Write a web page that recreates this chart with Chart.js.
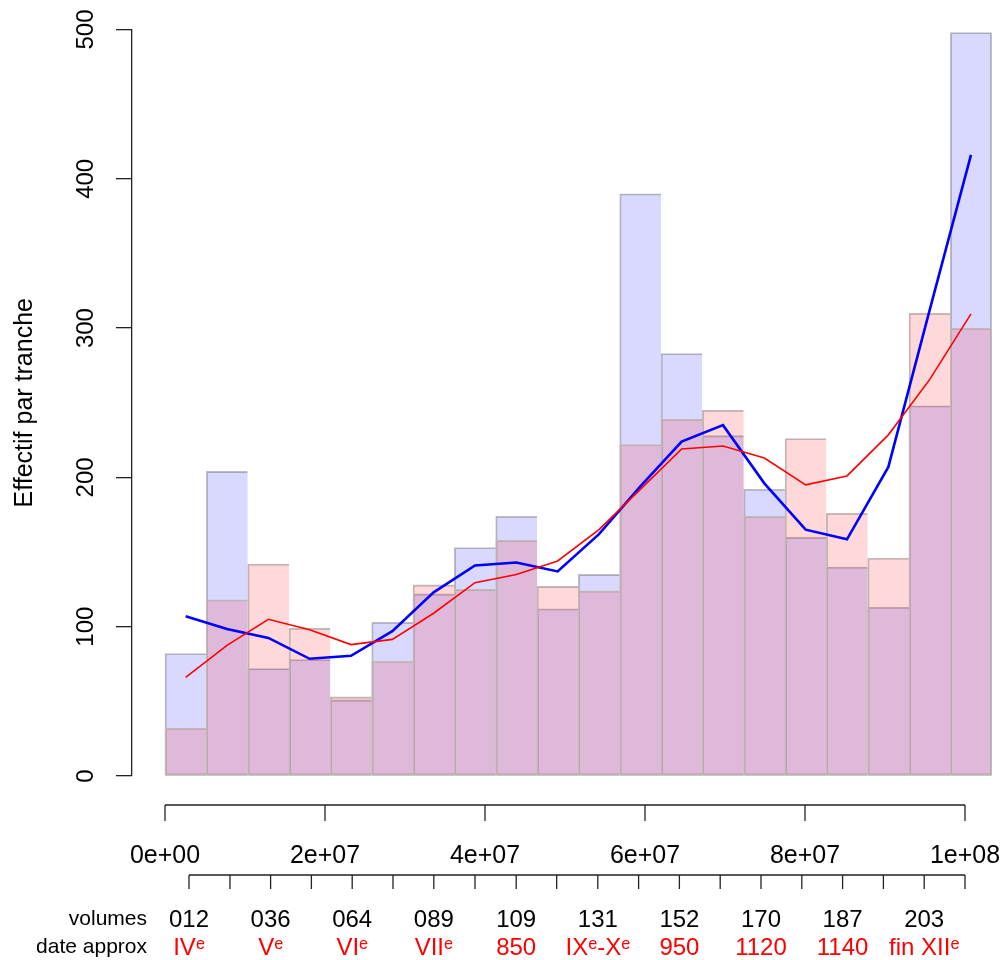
<!DOCTYPE html>
<html lang="fr">
<head>
<meta charset="utf-8">
<title>Effectif par tranche</title>
<script src="https://cdn.jsdelivr.net/npm/chart.js@4/dist/chart.umd.min.js"></script>
<style>
  html, body { margin: 0; padding: 0; background: #fff; }
  canvas { display: block; }
</style>
</head>
<body>
<canvas id="chart" width="1001" height="960"></canvas>
<script>
// Two overlaid histograms (slices of the corpus) + their smoothed curves.

// slice midpoints (character offset)
const sliceMid = [2.58e6, 7.75e6, 12.92e6, 18.08e6, 23.25e6, 28.42e6, 33.58e6, 38.75e6, 43.92e6, 49.08e6,
                  54.25e6, 59.42e6, 64.58e6, 69.75e6, 74.92e6, 80.08e6, 85.25e6, 90.42e6, 95.58e6, 100.75e6];

const countBlue = [82, 204, 72, 78, 51, 103, 122, 153, 174, 112, 135, 390, 283, 228, 192, 160, 140, 113, 248, 498];
const countRed  = [32, 118, 142, 99, 53, 77, 128, 125, 158, 127, 124, 222, 239, 245, 174, 226, 176, 146, 310, 300];

const smoothBlue = [107, 98.5, 92.5, 78.5, 80.5, 97, 123, 141, 143, 137, 162, 194, 224, 235, 196, 165, 158.5, 207, 312, 416];
const smoothRed  = [66, 87.5, 105, 98, 88, 91.5, 109, 129.5, 135, 144, 165, 192, 219, 221, 213, 195, 201, 228.5, 265.5, 309.5];

const xTicks = [0, 2e7, 4e7, 6e7, 8e7, 1e8];
const xTickLabels = ["0e+00", "2e+07", "4e+07", "6e+07", "8e+07", "1e+08"];

// secondary axis: volume boundaries
const volumeTicks = [3.0e6, 8.12e6, 13.2e6, 18.3e6, 23.4e6, 28.5e6, 33.6e6, 38.75e6, 43.9e6, 48.96e6,
                     54.1e6, 59.2e6, 64.3e6, 69.4e6, 74.5e6, 79.6e6, 84.7e6, 89.8e6, 94.9e6, 100e6];
const volumeLabels = ["012", "036", "064", "089", "109", "131", "152", "170", "187", "203"];
const dateLabels = ["IVᵉ", "Vᵉ", "VIᵉ", "VIIᵉ", "850", "IXᵉ-Xᵉ", "950", "1120", "1140", "fin XIIᵉ"];

const FONT = "'Liberation Sans', Arial, Helvetica, sans-serif";
const AXIS = "#222";
const BAR_EDGE = "#bdbdbd";

const pts = (ys) => ys.map((y, i) => ({ x: sliceMid[i], y }));
const lastIdx = sliceMid.length - 1;
const edge = (c) => ({ top: 1.2, bottom: 1.2, left: 1.2, right: c.dataIndex === lastIdx ? 1.2 : 0 });

// R-style detached bottom axes, drawn from the x scale
const bottomAxes = {
  id: "bottomAxes",
  afterDraw(chart) {
    const ctx = chart.ctx;
    const px = (v) => chart.scales.x.getPixelForValue(v);
    ctx.save();
    ctx.strokeStyle = AXIS;
    ctx.lineWidth = 1.3;

    ctx.beginPath();
    ctx.moveTo(px(xTicks[0]), 805);
    ctx.lineTo(px(xTicks[xTicks.length - 1]), 805);
    xTicks.forEach((v) => { ctx.moveTo(px(v), 805); ctx.lineTo(px(v), 821); });
    ctx.moveTo(px(volumeTicks[0]), 875);
    ctx.lineTo(px(volumeTicks[volumeTicks.length - 1]), 875);
    volumeTicks.forEach((v) => { ctx.moveTo(px(v), 875); ctx.lineTo(px(v), 889); });
    ctx.stroke();

    ctx.textAlign = "center";
    ctx.textBaseline = "alphabetic";
    ctx.fillStyle = "#000";
    ctx.font = "25px " + FONT;
    xTicks.forEach((v, i) => ctx.fillText(xTickLabels[i], px(v), 863));

    ctx.font = "24px " + FONT;
    volumeLabels.forEach((t, i) => ctx.fillText(t, px(volumeTicks[i * 2]), 927));
    ctx.fillStyle = "#ff0000";
    dateLabels.forEach((t, i) => ctx.fillText(t, px(volumeTicks[i * 2]), 955));

    ctx.textAlign = "right";
    ctx.fillStyle = "#000";
    ctx.font = "21px " + FONT;
    ctx.fillText("volumes", 147, 925);
    ctx.fillText("date approx", 147, 953);
    ctx.restore();
  }
};

Chart.defaults.font.family = FONT;
Chart.defaults.color = "#000";

new Chart(document.getElementById("chart"), {
  type: "bar",
  data: {
    datasets: [
      { type: "line", data: pts(smoothRed), borderColor: "#ff0000", borderWidth: 1.6, pointRadius: 0, tension: 0, order: 0 },
      { type: "line", data: pts(smoothBlue), borderColor: "#0000ff", borderWidth: 2.6, pointRadius: 0, tension: 0, order: 1 },
      { type: "bar", data: pts(countRed), backgroundColor: "rgba(255,0,0,0.15)", borderColor: BAR_EDGE,
        borderWidth: edge, borderSkipped: false, grouped: false, barPercentage: 1, categoryPercentage: 1, order: 2 },
      { type: "bar", data: pts(countBlue), backgroundColor: "rgba(0,0,255,0.15)", borderColor: BAR_EDGE,
        borderWidth: edge, borderSkipped: false, grouped: false, barPercentage: 1, categoryPercentage: 1, order: 3 }
    ]
  },
  options: {
    responsive: false,
    animation: false,
    devicePixelRatio: 1,
    layout: { padding: { top: 29.5, bottom: 184, left: 0, right: 0 } },
    plugins: { legend: { display: false }, tooltip: { enabled: false } },
    scales: {
      x: {
        type: "linear", display: false, offset: false,
        min: -4.125e6, max: 104.5e6,
        ticks: { stepSize: 2e7 }
      },
      y: {
        min: 0, max: 500,
        afterFit: (s) => { s.width = 132; },
        border: { color: AXIS, width: 1.3 },
        grid: { drawOnChartArea: false, tickLength: 16, color: AXIS, lineWidth: 1.3 },
        ticks: { stepSize: 100, minRotation: 90, maxRotation: 90, crossAlign: "center", padding: 9.5,
                 font: { size: 24 }, color: "#000" },
        title: { display: true, text: "Effectif par tranche", font: { size: 25 }, color: "#000",
                 padding: { top: 10, bottom: 0 } }
      }
    }
  },
  plugins: [bottomAxes]
});
</script>
</body>
</html>
